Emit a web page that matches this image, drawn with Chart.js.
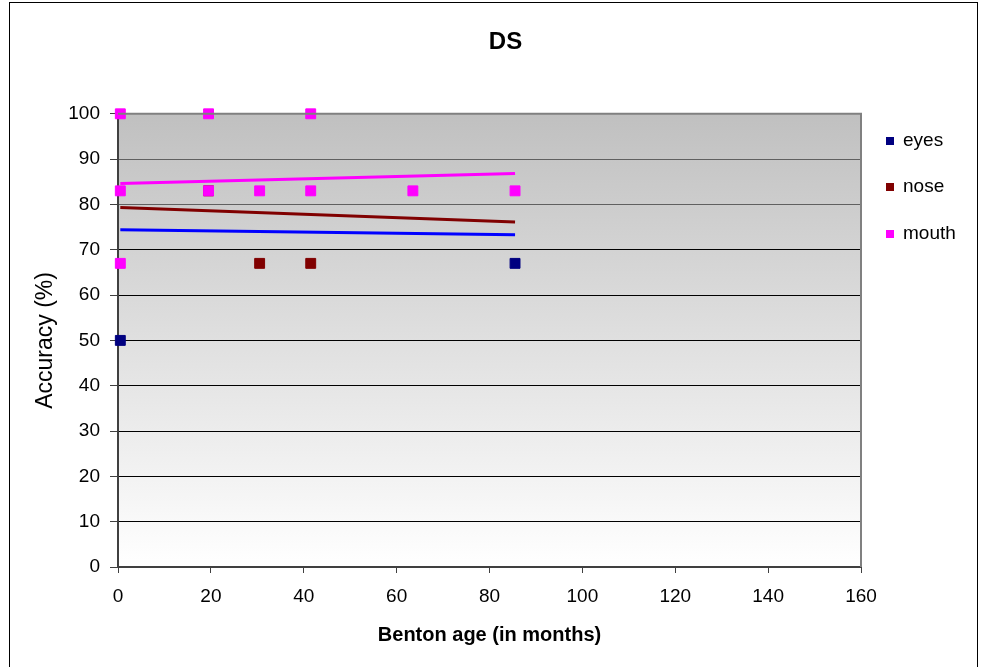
<!DOCTYPE html>
<html>
<head>
<meta charset="utf-8">
<script src="https://cdn.jsdelivr.net/npm/chart.js@4.4.0/dist/chart.umd.min.js"></script>
<style>
  html, body { margin: 0; padding: 0; background: #fff; }
  #wrap { width: 983px; height: 667px; position: relative; }
</style>
</head>
<body>
<div id="wrap"><canvas id="grafico"></canvas></div>
<script>
// Datos (edad Benton en meses, precisión en %)
const eyesX = [0.5, 85.5];
const eyesY = [50, 67];
const noseX = [19.5, 30.5, 41.5];
const noseY = [83, 67, 67];
const mouthX = [0.5, 0.5, 0.5, 19.5, 19.5, 30.5, 41.5, 41.5, 63.5, 85.5];
const mouthY = [100, 83, 67, 100, 83, 83, 100, 83, 83, 83];

// Líneas de tendencia (extremos)
const trendX = [0.5, 85.5];
const eyesTrend = [74.4, 73.3];
const noseTrend = [79.3, 76.1];
const mouthTrend = [84.6, 86.8];

const seriesNames = ['eyes', 'nose', 'mouth'];
const seriesColors = ['#000080', '#800000', '#ff00ff'];
const trendColors = ['#0000ff', '#800000', '#ff00ff'];

const xTicks = [0, 20, 40, 60, 80, 100, 120, 140, 160];
const yTicks = [0, 10, 20, 30, 40, 50, 60, 70, 80, 90, 100];

const FONT = 'Liberation Sans, Arial, sans-serif';

function pares(xs, ys) {
    return xs.map((x, i) => ({ x: x, y: ys[i] }));
}

function puntos(label, xs, ys, color, order) {
    return {
        type: 'scatter',
        label: label,
        data: pares(xs, ys),
        backgroundColor: color,
        borderColor: color,
        borderWidth: 1,
        pointStyle: 'rect',
        pointRadius: 7,
        clip: false,
        order: order
    };
}

function tendencia(ys, color) {
    return {
        type: 'line',
        label: 'trend',
        data: pares(trendX, ys),
        borderColor: color,
        borderWidth: 3,
        pointRadius: 0,
        fill: false,
        tension: 0,
        clip: false,
        order: 5
    };
}

// Fondo degradado del área de trazado, borde exterior y leyenda
const fondoPlugin = {
    id: 'fondo',
    beforeDraw(chart) {
        const { ctx, chartArea: a } = chart;
        ctx.save();
        const g = ctx.createLinearGradient(0, a.top, 0, a.bottom);
        g.addColorStop(0, '#c0c0c0');
        g.addColorStop(1, '#ffffff');
        ctx.fillStyle = g;
        ctx.fillRect(a.left, a.top, a.right - a.left, a.bottom - a.top);
        ctx.restore();
    },
    afterDraw(chart) {
        const { ctx, chartArea: a } = chart;
        ctx.save();
        // borde del área de trazado
        ctx.strokeStyle = '#808080';
        ctx.lineWidth = 2;
        ctx.beginPath();
        ctx.moveTo(a.left, a.top);
        ctx.lineTo(a.right, a.top);
        ctx.lineTo(a.right, a.bottom);
        ctx.stroke();
        // borde exterior
        ctx.strokeStyle = '#000';
        ctx.lineWidth = 1;
        ctx.strokeRect(9.5, 2.5, 968, 700);
        // leyenda
        const ys = [141, 187, 234];
        ctx.font = '19px ' + FONT;
        ctx.textBaseline = 'middle';
        ctx.textAlign = 'left';
        seriesNames.forEach((n, i) => {
            ctx.fillStyle = seriesColors[i];
            ctx.fillRect(886, ys[i] - 4, 8, 8);
            ctx.fillStyle = '#000';
            ctx.fillText(n, 903, ys[i]);
        });
        ctx.restore();
    }
};

const ctx = document.getElementById('grafico').getContext('2d');
const grafico = new Chart(ctx, {
    type: 'scatter',
    data: {
        datasets: [
            puntos(seriesNames[0], eyesX, eyesY, seriesColors[0], 2),
            puntos(seriesNames[1], noseX, noseY, seriesColors[1], 1),
            puntos(seriesNames[2], mouthX, mouthY, seriesColors[2], 0),
            tendencia(eyesTrend, trendColors[0]),
            tendencia(noseTrend, trendColors[1]),
            tendencia(mouthTrend, trendColors[2])
        ]
    },
    options: {
        responsive: true,
        maintainAspectRatio: false,
        animation: false,
        layout: { padding: { left: 28, right: 0, top: 0, bottom: 0 } },
        plugins: {
            legend: { display: false },
            tooltip: { enabled: false },
            title: {
                display: true,
                text: 'DS',
                color: '#000',
                font: { family: FONT, size: 24, weight: 'bold' },
                padding: { top: 28, bottom: 57 }
            }
        },
        scales: {
            x: {
                type: 'linear',
                min: 0,
                max: 160,
                afterBuildTicks: s => { s.ticks = xTicks.map(v => ({ value: v })); },
                afterFit: s => { s.height = 100; },
                grid: { drawOnChartArea: false, drawTicks: true, tickLength: 6, tickColor: '#404040' },
                border: { color: '#404040', width: 2 },
                ticks: { color: '#000', font: { family: FONT, size: 19 }, padding: 12, maxRotation: 0 },
                title: {
                    display: true,
                    text: 'Benton age (in months)',
                    color: '#000',
                    font: { family: FONT, size: 20, weight: 'bold' },
                    padding: { top: 0, bottom: 20 }
                }
            },
            y: {
                type: 'linear',
                min: 0,
                max: 100,
                afterBuildTicks: s => { s.ticks = yTicks.map(v => ({ value: v })); },
                afterFit: s => { s.width = 90; },
                grid: {
                    color: c => (c.tick && c.tick.value >= 80 ? '#606060' : '#000'),
                    lineWidth: 1,
                    drawTicks: true,
                    tickLength: 8,
                    tickColor: '#404040'
                },
                border: { color: '#404040', width: 2 },
                ticks: { color: '#000', font: { family: FONT, size: 19 }, padding: 10 },
                title: {
                    display: true,
                    text: 'Accuracy (%)',
                    color: '#000',
                    font: { family: FONT, size: 23 },
                    padding: { top: 4, bottom: 0 }
                }
            },
            // espacio reservado para la leyenda a la derecha
            leyenda: {
                type: 'linear',
                position: 'right',
                display: true,
                afterFit: s => { s.width = 122; },
                grid: { display: false, drawTicks: false },
                border: { display: false },
                ticks: { display: false },
                title: { display: false }
            }
        }
    },
    plugins: [fondoPlugin]
});
</script>
</body>
</html>
